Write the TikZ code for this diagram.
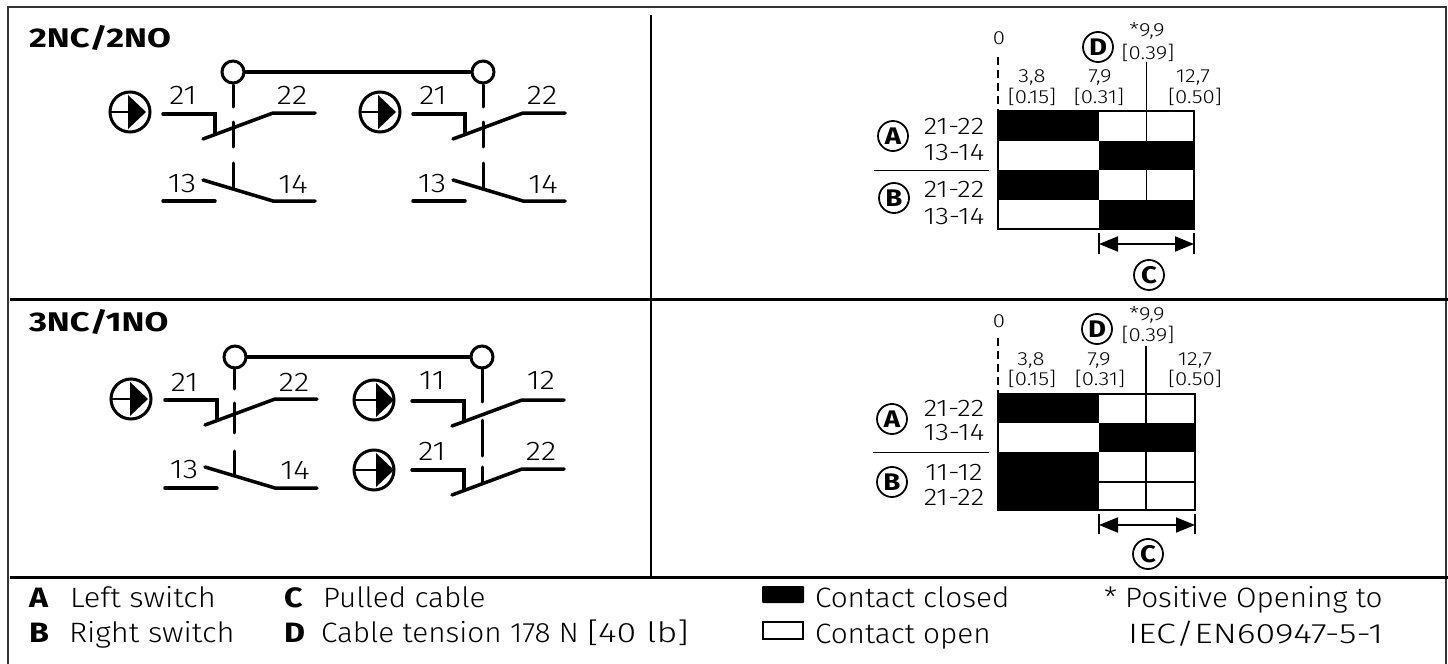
\documentclass[tikz,border=0pt]{standalone}
\usepackage{fontspec}
\setmainfont{Fira Sans Light}
\newfontfamily\wideb{Fira Sans Bold}[FakeStretch=1.28]
\newfontfamily\midb{Fira Sans Bold}[FakeStretch=1.15]
\newfontfamily\vwidel{Fira Sans Light}[FakeStretch=1.28]
\newfontfamily\widel{Fira Sans Light}[FakeStretch=1.17]
\newfontfamily\semil{Fira Sans Light}[FakeStretch=1.1]
\newfontfamily\midl{Fira Sans Light}[FakeStretch=1.06]
\usetikzlibrary{arrows.meta}
\tikzset{
  x=0.5pt,y=-0.5pt,
  wire/.style={line width=1.75pt,line cap=round,line join=miter},
  txt/.style={inner sep=0pt,outer sep=0pt},
  num/.style={txt,font=\fontsize{13.5}{13.5}\widel},
  small/.style={txt,font=\fontsize{9.5}{9.5}\widel},
  rowlab/.style={txt,font=\fontsize{12}{12}\widel},
  leg/.style={txt,anchor=base west,font=\fontsize{14}{14}\midl},
  legb/.style={txt,anchor=base west,font=\fontsize{14}{14}\midb},
  title/.style={txt,anchor=base west,font=\fontsize{13.5}{13.5}\wideb},
  badge/.style={circle,draw,line width=0.9pt,minimum size=15pt,inner sep=0pt,font=\fontsize{12}{12}\midb},
  pin/.style={circle,draw,line width=1.5pt,fill=white,minimum size=11pt,inner sep=0pt},
  cell/.style={fill=black},
  grid/.style={line width=0.8pt},
  dim/.style={line width=1pt,{Triangle[length=9.5pt,width=7.5pt]}-{Triangle[length=9.5pt,width=7.5pt]}}
}
\newcommand{\posop}[4]{% name, cx, cy, triangle x
  \node[circle,draw,line width=1.5pt,minimum size=20pt,inner sep=0pt] (#1) at (#2,#3) {};
  \draw[line width=1.1pt] (#1.west) -- (#4,#3);
  \fill (#4,#3-17) -- (#4+18,#3) -- (#4,#3+17) -- cycle;
}
\newcommand{\ncc}[2]{% left end x, level y
  \draw[wire] (#1,#2) -- (#1+52,#2) -- (#1+52,#2+19);
  \draw[wire] (#1+40,#2+25) -- (#1+110,#2-1) -- (#1+152,#2-1);
}
\newcommand{\noc}[2]{%
  \draw[wire] (#1,#2) -- (#1+52,#2);
  \draw[wire] (#1+40,#2-21) -- (#1+110,#2) -- (#1+152,#2);
}
\newcommand{\stem}[3]{\draw[line width=1.5pt,line cap=round] (#1,#2) -- (#1,#3);}
\begin{document}
\begin{tikzpicture}
\useasboundingbox (0,0) rectangle (1448,664);
% frame
\draw[line width=1pt,color=black!80] (8,664) -- (8,7) -- (1445.5,7) -- (1445.5,664);
\draw[line width=1pt] (651,15) -- (651,577);
\draw[line width=1.5pt] (10,299) -- (1448,299);
\draw[line width=1.5pt] (10,577) -- (1448,577);
% titles
\node[title] (t1) at (29,47) {2NC/2NO};
\node[title] (t2) at (29,331) {3NC/1NO};
% schematic 1
\node[pin] (p1) at (233,72) {};
\node[pin] (p2) at (483,72) {};
\draw[wire] (p1) -- (p2);
\foreach \d in {0,250}{
  \posop{s\d}{130+\d}{112}{128+\d}
  \ncc{163+\d}{114}
  \noc{163+\d}{201}
  \stem{233+\d}{85}{107}
  \stem{233+\d}{122}{147}
  \stem{233+\d}{163}{188}
  \node[num] (a\d) at (183+\d,95) {21};
  \node[num] (b\d) at (292+\d,95) {22};
  \node[num] (c\d) at (182+\d,184) {13};
  \node[num] (e\d) at (293+\d,184) {14};
}
% schematic 2
\node[pin] (p3) at (235,357) {};
\node[pin] (p4) at (482,357) {};
\draw[wire] (p3) -- (p4);
\posop{u1}{131}{399}{130}
\posop{u2}{374}{400}{376}
\posop{u3}{374}{470}{376}
\ncc{165}{400}
\noc{165}{488}
\ncc{412}{401}
\ncc{412}{470}
\stem{234}{368}{389}\stem{234}{403}{433}\stem{234}{451}{475}
\stem{482}{368}{402}\stem{482}{420}{456}\stem{482}{467}{484}
\node[num] (l1) at (184.5,382) {21};
\node[num] (l2) at (294,382) {22};
\node[num] (l3) at (184,470) {13};
\node[num] (l4) at (295,470.5) {14};
\node[num] (l5) at (432,381) {11};
\node[num] (l6) at (541,380) {12};
\node[num] (l7) at (432,451) {21};
\node[num] (l8) at (541,451) {22};
% chart 1
\fill[cell] (998,111) rectangle (1099,141);
\fill[cell] (1099,141) rectangle (1194,170);
\fill[cell] (998,170) rectangle (1099,200);
\fill[cell] (1099,200) rectangle (1194,229);
\draw[grid] (998,111) rectangle (1194,229);
\draw[grid] (1146.5,62) -- (1146.5,141);
\draw[grid] (1146.5,170) -- (1146.5,200);
\draw[line width=0.8pt,dash pattern=on 4pt off 2.5pt] (998,57) -- (998,111);
\node[small] at (999,38) {0};
\node[small] at (1147,31) {*9,9};
\node[small] at (1148,53) {[0.39]};
\node[small] at (1032,78) {3,8};
\node[small] at (1032,97) {[0.15]};
\node[small] at (1100,78) {7,9};
\node[small] at (1099,97) {[0.31]};
\node[small] at (1193,78) {12,7};
\node[small] at (1195,97) {[0.50]};
\node[badge] (D1) at (1098,47) {D};
\node[badge] (A1) at (893,136) {A};
\node[badge] (B1) at (894,198) {B};
\node[badge] (C1) at (1149,275) {C};
\node[rowlab] at (954,126) {21-22};
\node[rowlab] at (954,153) {13-14};
\node[rowlab] at (954,189) {21-22};
\node[rowlab] at (954,217) {13-14};
\draw[grid] (874,170.5) -- (989,170.5);
\draw[grid] (1099,233) -- (1099,254);
\draw[grid] (1194,233) -- (1194,254);
\draw[dim] (1099,244) -- (1194,244);
% chart 2
\fill[cell] (998,394) rectangle (1099,423);
\fill[cell] (1099,423) rectangle (1195,452);
\fill[cell] (998,452) rectangle (1099,510);
\draw[grid] (998,394) rectangle (1195,510);
\draw[grid] (1099,482) -- (1195,482);
\draw[grid] (1146,346) -- (1146,423);
\draw[grid] (1146,452) -- (1146,510);
\draw[line width=0.8pt,dash pattern=on 4pt off 2.5pt] (998,338) -- (998,394);
\node[small] at (999,321) {0};
\node[small] at (1147,315) {*9,9};
\node[small] at (1148,335) {[0.39]};
\node[small] at (1031,361) {3,8};
\node[small] at (1032,379) {[0.15]};
\node[small] at (1099,361) {7,9};
\node[small] at (1100,379) {[0.31]};
\node[small] at (1195,361) {12,7};
\node[small] at (1195,379) {[0.50]};
\node[badge] (D2) at (1097,329) {D};
\node[badge] (A2) at (892,419) {A};
\node[badge] (B2) at (892,482) {B};
\node[badge] (C2) at (1148,554) {C};
\node[rowlab] at (954,408) {21-22};
\node[rowlab] at (954,433) {13-14};
\node[rowlab] at (954,472) {11-12};
\node[rowlab] at (954,497) {21-22};
\draw[grid] (873,452.5) -- (989,452.5);
\draw[grid] (1099,514) -- (1099,534);
\draw[grid] (1195,514) -- (1195,534);
\draw[dim] (1099,525) -- (1195,525);
% legend
\node[legb] at (29,607) {A};
\node[leg] at (70,607) {\semil Left switch};
\node[legb] at (29,642) {B};
\node[leg] at (69,642) {\semil Right switch};
\node[legb] at (284,607) {C};
\node[leg] at (323,607) {Pulled cable};
\node[legb] at (284,642) {D};
\node[leg] at (321,642) {Cable tension 178 N {\vwidel [40 lb]}};
\fill[rounded corners=0.5pt] (762,586) rectangle (804,603);
\draw[line width=1pt] (763,622) rectangle (803,639);
\node[leg] at (815,607) {Contact closed};
\node[leg] at (815,643) {Contact open};
\node[leg] at (1104,607) {* Positive Opening to};
\node[leg] at (1128,643) {\vwidel IEC/EN60947-5-1};
\end{tikzpicture}
\end{document}
